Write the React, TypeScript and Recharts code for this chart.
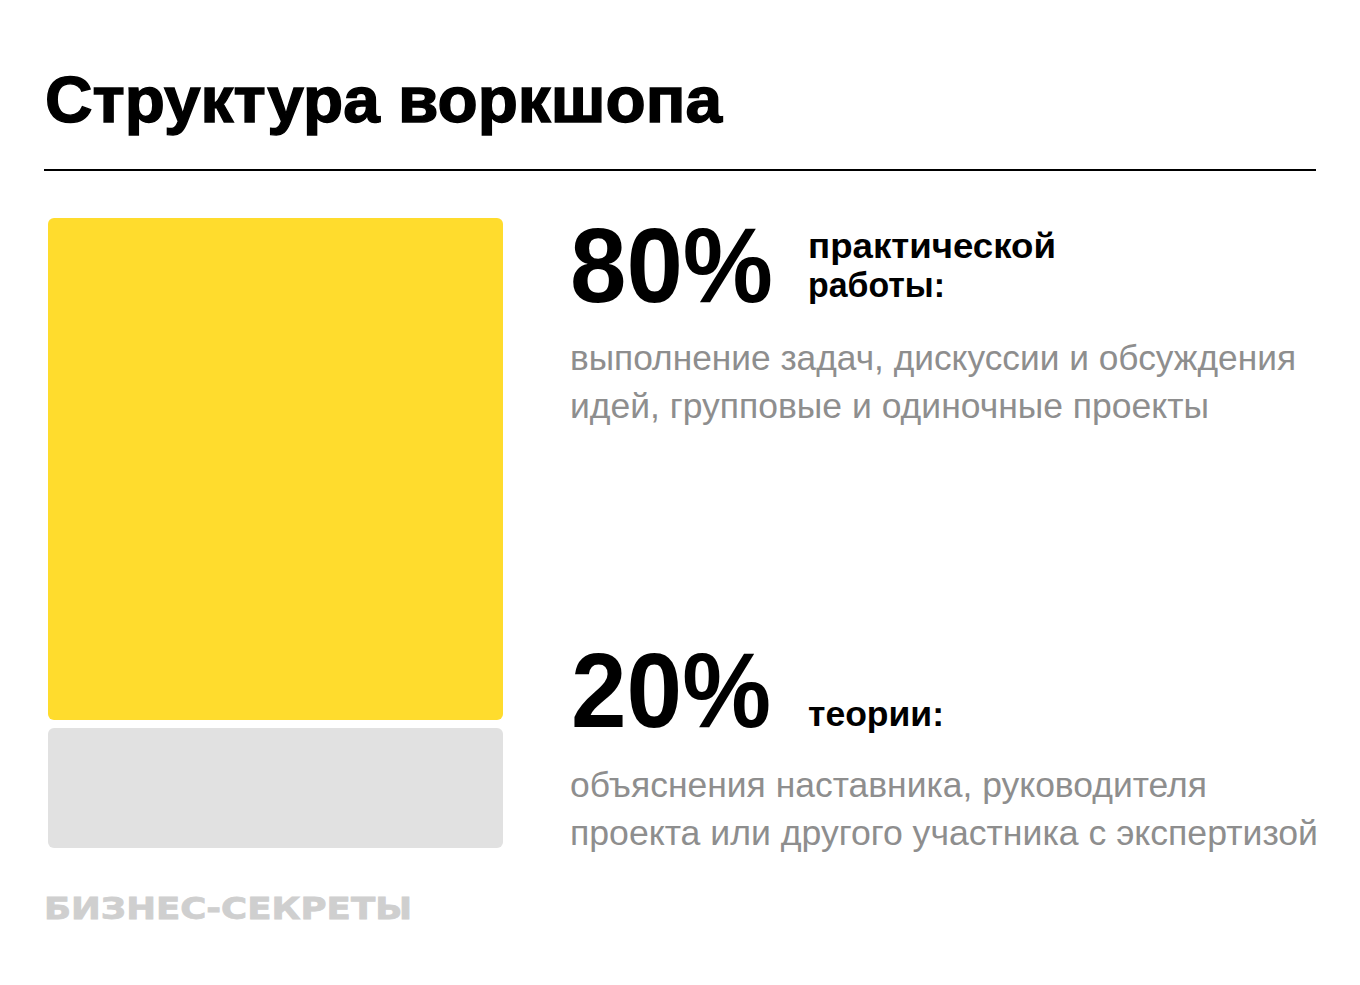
import { BarChart, Bar, XAxis, YAxis, Rectangle } from "recharts";

// one stacked column: practice on top, theory below
const categories = ["Воркшоп"];
const practiceValues = [80];
const theoryValues = [20];

const title = "Структура воркшопа";
const practiceLabel = ["практической", "работы:"];
const practiceNote = ["выполнение задач, дискуссии и обсуждения", "идей, групповые и одиночные проекты"];
const theoryLabel = ["теории:"];
const theoryNote = ["объяснения наставника, руководителя", "проекта или другого участника с экспертизой"];
const brand = "БИЗНЕС-СЕКРЕТЫ";

const data = categories.map((name, i) => ({
  name,
  practice: practiceValues[i],
  theory: theoryValues[i],
}));

const YELLOW = "#FFDC2D";
const LIGHT = "#E1E1E1";
const GRAY_TEXT = "#8E8E8E";

// trim each segment at the seam so the stack shows a white gap
function Segment(props: any) {
  const { x, y, width, height, fill, side } = props;
  const trim = side === "bottom" ? 6 : 2;
  const top = side === "bottom" ? y + trim : y;
  return <Rectangle x={x} y={top} width={width} height={height - trim} fill={fill} radius={6} />;
}

const bold = "'Liberation Sans', Arial, sans-serif";
const narrow = "'Liberation Sans Narrow', 'Liberation Sans', sans-serif";

export default function App() {
  return (
    <div style={{ position: "absolute", left: 0, top: 0, width: 1360, height: 985, background: "#fff" }}>
      <BarChart
        width={1360}
        height={985}
        data={data}
        margin={{ top: 218, bottom: 137, left: 48, right: 857 }}
        barCategoryGap={0}
      >
        <XAxis dataKey="name" hide />
        <YAxis hide domain={[0, 100]} />
        <Bar
          dataKey="theory"
          stackId="a"
          fill={LIGHT}
          isAnimationActive={false}
          shape={(p: any) => <Segment {...p} side="bottom" />}
        />
        <Bar
          dataKey="practice"
          stackId="a"
          fill={YELLOW}
          isAnimationActive={false}
          shape={(p: any) => <Segment {...p} side="top" />}
        />
      </BarChart>

      <svg width={1360} height={985} style={{ position: "absolute", left: 0, top: 0, pointerEvents: "none" }}>
        <text x={45} y={122} fontFamily={bold} fontWeight={700} fontSize={65} fill="#000"
          stroke="#000" strokeWidth={1.4}
          textLength={677} lengthAdjust="spacingAndGlyphs">{title}</text>
        <line x1={44} x2={1316} y1={170} y2={170} stroke="#000" strokeWidth={2} />

        <text x={570} y={302} fontFamily={bold} fontWeight={700} fontSize={106} fill="#000"
          textLength={203} lengthAdjust="spacingAndGlyphs">{`${practiceValues[0]}%`}</text>
        <text x={808} y={258} fontFamily={bold} fontWeight={700} fontSize={35} fill="#000"
          textLength={248} lengthAdjust="spacingAndGlyphs">{practiceLabel[0]}</text>
        <text x={808} y={297} fontFamily={bold} fontWeight={700} fontSize={35} fill="#000"
          textLength={137} lengthAdjust="spacingAndGlyphs">{practiceLabel[1]}</text>
        <text x={570} y={370} fontFamily={narrow} fontSize={35} fill={GRAY_TEXT}
          textLength={726} lengthAdjust="spacingAndGlyphs">{practiceNote[0]}</text>
        <text x={570} y={418} fontFamily={narrow} fontSize={35} fill={GRAY_TEXT}
          textLength={639} lengthAdjust="spacingAndGlyphs">{practiceNote[1]}</text>

        <text x={571} y={727} fontFamily={bold} fontWeight={700} fontSize={106} fill="#000"
          textLength={200} lengthAdjust="spacingAndGlyphs">{`${theoryValues[0]}%`}</text>
        <text x={808} y={726} fontFamily={bold} fontWeight={700} fontSize={35} fill="#000"
          textLength={136} lengthAdjust="spacingAndGlyphs">{theoryLabel[0]}</text>
        <text x={570} y={797} fontFamily={narrow} fontSize={35} fill={GRAY_TEXT}
          textLength={637} lengthAdjust="spacingAndGlyphs">{theoryNote[0]}</text>
        <text x={570} y={845} fontFamily={narrow} fontSize={35} fill={GRAY_TEXT}
          textLength={748} lengthAdjust="spacingAndGlyphs">{theoryNote[1]}</text>

        <text x={44} y={919} fontFamily="'DejaVu Sans', sans-serif" fontWeight={700} fontSize={30} fill="#CFCFCF"
          stroke="#CFCFCF" strokeWidth={0.8}
          textLength={368} lengthAdjust="spacingAndGlyphs">{brand}</text>
      </svg>
    </div>
  );
}
